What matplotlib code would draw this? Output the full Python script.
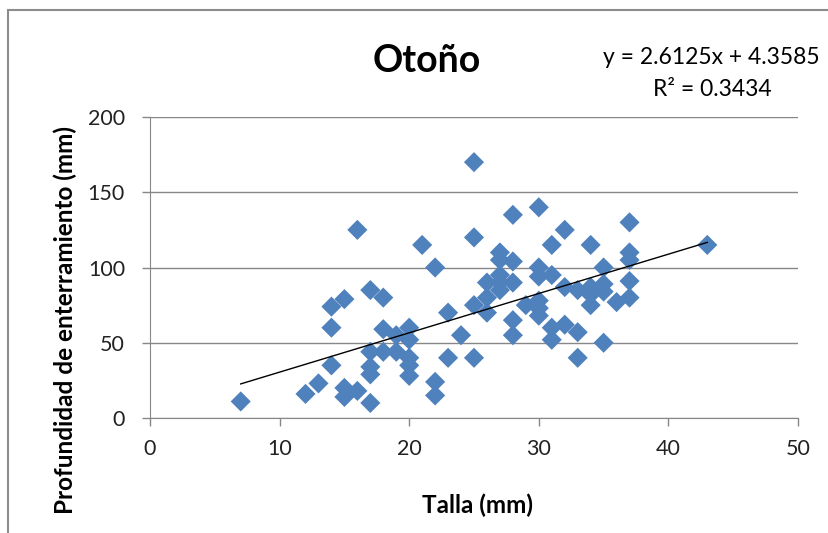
import numpy as np
import matplotlib.pyplot as plt
from matplotlib.patches import Rectangle

plt.rcParams['font.family'] = ['Lato', 'DejaVu Sans']

# Talla (mm) y profundidad de enterramiento (mm), otoño
talla = [7, 12, 13, 14, 14, 14, 15, 15, 15, 16, 16,
         17, 17, 17, 17, 17, 18, 18, 18, 19, 19,
         20, 20, 20, 20, 20, 21, 22, 22, 22, 23, 23, 24,
         25, 25, 25, 25, 26, 26, 26, 27, 27, 27, 27, 27,
         28, 28, 28, 28, 28, 29, 30, 30, 30, 30, 30, 30,
         31, 31, 31, 31, 32, 32, 32, 33, 33, 33,
         34, 34, 34, 34, 35, 35, 35, 35, 36,
         37, 37, 37, 37, 37, 43]
profundidad = [11, 16, 23, 35, 60, 74, 14, 20, 79, 18, 125,
               10, 29, 34, 44, 85, 44, 59, 80, 44, 55,
               28, 35, 40, 52, 60, 115, 15, 24, 100, 40, 70, 55,
               40, 75, 120, 170, 70, 80, 90, 85, 90, 95, 105, 110,
               55, 65, 90, 104, 135, 75, 68, 73, 78, 94, 100, 140,
               52, 60, 95, 115, 62, 87, 125, 40, 57, 85,
               75, 82, 87, 115, 50, 84, 89, 100, 77,
               80, 91, 105, 110, 130, 115]

# Línea de tendencia
pendiente = 2.6125
intercepto = 4.3585
r2 = 0.3434

fig = plt.figure(figsize=(8.29, 5.33), dpi=100)
ax = fig.add_axes([150 / 829, 1 - 418 / 533, 648 / 829, 301 / 533])

ax.scatter(talla, profundidad, marker='D', s=105, color='#4F81BD',
           edgecolors='none', zorder=3)

xs = np.array([min(talla), max(talla)])
ax.plot(xs, pendiente * xs + intercepto, color='black', lw=1, zorder=4)

ax.set_xlim(0, 50)
ax.set_ylim(0, 200)
ax.set_xticks(range(0, 51, 10))
ax.set_yticks(range(0, 201, 50))

grid_col = '#878787'
ax.yaxis.grid(True, color=grid_col, lw=1)
ax.set_axisbelow(True)
for side in ['top', 'right']:
    ax.spines[side].set_visible(False)
for side in ['left', 'bottom']:
    ax.spines[side].set_color(grid_col)
ax.tick_params(axis='both', colors=grid_col, length=6, width=1,
               labelsize=15.5, labelcolor='#222222')
ax.tick_params(axis='y', pad=12)
ax.tick_params(axis='x', pad=9)

ax.set_xlabel('Talla (mm)', fontsize=17.5, fontweight='bold')
ax.set_ylabel('Profundidad de enterramiento (mm)', fontsize=17.5,
              fontweight='bold')
ax.xaxis.set_label_coords(0.505, -0.252)
ax.yaxis.set_label_coords(-0.112, 0.325)

fig.text(427 / 829, 1 - 61 / 533, 'Otoño', fontsize=27, fontweight='bold',
         ha='center', va='center')
fig.text(711 / 829, 1 - 58 / 533, f'y = {pendiente}x + {intercepto}',
         fontsize=16.5, ha='center', va='center')
fig.text(712 / 829, 1 - 89 / 533, f'R² = {r2}', fontsize=16.5,
         ha='center', va='center')

# marco del gráfico
fig.patches.append(Rectangle((8 / 829, -0.1), 1.2, 1 - 10 / 533 + 0.1,
                             transform=fig.transFigure, fill=False,
                             edgecolor='#8c8c8c', lw=1.5))

fig.savefig('out.png', dpi=100)
